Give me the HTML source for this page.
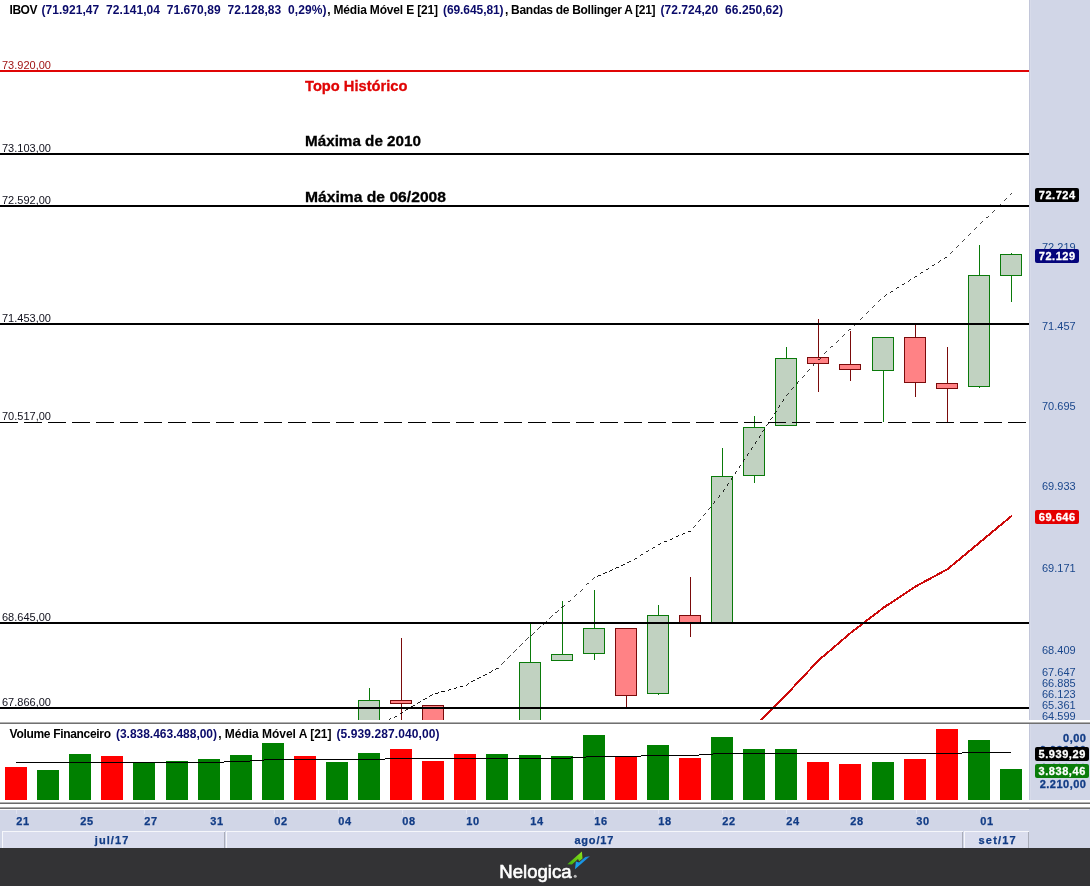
<!DOCTYPE html>
<html lang="pt-BR"><head><meta charset="utf-8"><title>IBOV</title>
<style>
html,body{margin:0;padding:0;background:#fff;}
body{width:1090px;height:886px;overflow:hidden;}
svg{display:block}
text{font-family:"Liberation Sans",sans-serif;white-space:pre}
.hb{font-size:12px;font-weight:bold;fill:#000}
.hn{font-size:12px;font-weight:bold;fill:#0a0a6a}
.lv{font-size:11px;fill:#10101c}
.ax{font-size:11px;fill:#1a478c}
.axb{font-size:11px;font-weight:bold;fill:#123c86;letter-spacing:.5px;stroke:#123c86;stroke-width:.3px}
.tag{font-size:11px;font-weight:bold;fill:#fff;letter-spacing:.55px;stroke:#fff;stroke-width:.3px}
.an{font-size:15.5px;font-weight:bold;fill:#000;stroke:#000;stroke-width:.3px}
.dt{font-size:11px;font-weight:bold;fill:#123c86;letter-spacing:.8px;stroke:#123c86;stroke-width:.25px}
</style></head><body>
<svg width="1090" height="886" viewBox="0 0 1090 886">
<rect width="1090" height="886" fill="#fff"/>
<defs><clipPath id="cm"><rect x="0" y="0" width="1029" height="720"/></clipPath></defs>
<g clip-path="url(#cm)" shape-rendering="crispEdges">
<line x1="369.5" y1="688.0" x2="369.5" y2="730.0" stroke="#0a7a0a" stroke-width="1"/>
<rect x="358.5" y="700.5" width="21" height="29.5" fill="#c1d2c1" stroke="#0a7a0a" stroke-width="1"/>
<line x1="401.5" y1="638.0" x2="401.5" y2="730.0" stroke="#7a0a0a" stroke-width="1"/>
<rect x="390.5" y="700.5" width="21" height="3.0" fill="#ff8285" stroke="#7a0a0a" stroke-width="1"/>
<line x1="433.5" y1="705.5" x2="433.5" y2="730.0" stroke="#7a0a0a" stroke-width="1"/>
<rect x="422.5" y="705.5" width="21" height="24.5" fill="#ff8285" stroke="#7a0a0a" stroke-width="1"/>
<line x1="530.5" y1="624.0" x2="530.5" y2="730.0" stroke="#0a7a0a" stroke-width="1"/>
<rect x="519.5" y="662.5" width="21" height="67.5" fill="#c1d2c1" stroke="#0a7a0a" stroke-width="1"/>
<line x1="562.5" y1="601.0" x2="562.5" y2="660.5" stroke="#0a7a0a" stroke-width="1"/>
<rect x="551.5" y="654.5" width="21" height="6.0" fill="#c1d2c1" stroke="#0a7a0a" stroke-width="1"/>
<line x1="594.5" y1="590.0" x2="594.5" y2="660.0" stroke="#0a7a0a" stroke-width="1"/>
<rect x="583.5" y="628.5" width="21" height="25.0" fill="#c1d2c1" stroke="#0a7a0a" stroke-width="1"/>
<line x1="626.5" y1="628.5" x2="626.5" y2="707.0" stroke="#7a0a0a" stroke-width="1"/>
<rect x="615.5" y="628.5" width="21" height="67.0" fill="#ff8285" stroke="#7a0a0a" stroke-width="1"/>
<line x1="658.5" y1="605.0" x2="658.5" y2="695.0" stroke="#0a7a0a" stroke-width="1"/>
<rect x="647.5" y="615.5" width="21" height="78.0" fill="#c1d2c1" stroke="#0a7a0a" stroke-width="1"/>
<line x1="690.5" y1="577.0" x2="690.5" y2="637.0" stroke="#7a0a0a" stroke-width="1"/>
<rect x="679.5" y="615.5" width="21" height="8.0" fill="#ff8285" stroke="#7a0a0a" stroke-width="1"/>
<line x1="722.5" y1="448.0" x2="722.5" y2="623.5" stroke="#0a7a0a" stroke-width="1"/>
<rect x="711.5" y="476.5" width="21" height="147.0" fill="#c1d2c1" stroke="#0a7a0a" stroke-width="1"/>
<line x1="754.5" y1="415.5" x2="754.5" y2="482.5" stroke="#0a7a0a" stroke-width="1"/>
<rect x="743.5" y="427.5" width="21" height="48.0" fill="#c1d2c1" stroke="#0a7a0a" stroke-width="1"/>
<line x1="786.5" y1="347.0" x2="786.5" y2="425.5" stroke="#0a7a0a" stroke-width="1"/>
<rect x="775.5" y="358.5" width="21" height="67.0" fill="#c1d2c1" stroke="#0a7a0a" stroke-width="1"/>
<line x1="818.5" y1="319.0" x2="818.5" y2="392.0" stroke="#7a0a0a" stroke-width="1"/>
<rect x="807.5" y="357.5" width="21" height="6.0" fill="#ff8285" stroke="#7a0a0a" stroke-width="1"/>
<line x1="850.5" y1="331.0" x2="850.5" y2="380.5" stroke="#7a0a0a" stroke-width="1"/>
<rect x="839.5" y="364.5" width="21" height="5.0" fill="#ff8285" stroke="#7a0a0a" stroke-width="1"/>
<line x1="883.5" y1="337.5" x2="883.5" y2="422.0" stroke="#0a7a0a" stroke-width="1"/>
<rect x="872.5" y="337.5" width="21" height="33.0" fill="#c1d2c1" stroke="#0a7a0a" stroke-width="1"/>
<line x1="915.5" y1="324.0" x2="915.5" y2="397.0" stroke="#7a0a0a" stroke-width="1"/>
<rect x="904.5" y="337.5" width="21" height="45.0" fill="#ff8285" stroke="#7a0a0a" stroke-width="1"/>
<line x1="947.5" y1="347.0" x2="947.5" y2="422.5" stroke="#7a0a0a" stroke-width="1"/>
<rect x="936.5" y="383.5" width="21" height="5.0" fill="#ff8285" stroke="#7a0a0a" stroke-width="1"/>
<line x1="979.5" y1="245.0" x2="979.5" y2="387.5" stroke="#0a7a0a" stroke-width="1"/>
<rect x="968.5" y="275.5" width="21" height="111.0" fill="#c1d2c1" stroke="#0a7a0a" stroke-width="1"/>
<line x1="1011.5" y1="253.0" x2="1011.5" y2="302.0" stroke="#0a7a0a" stroke-width="1"/>
<rect x="1000.5" y="254.5" width="21" height="21.0" fill="#c1d2c1" stroke="#0a7a0a" stroke-width="1"/>
</g>
<g clip-path="url(#cm)">
<g shape-rendering="crispEdges" stroke="#000" fill="none">
<line x1="369.5" y1="731.4" x2="401.5" y2="712.5" stroke-width="0.86" stroke-dasharray="3.72 3.25" stroke-dashoffset="0.00"/>
<line x1="401.5" y1="712.5" x2="433.5" y2="694.3" stroke-width="0.87" stroke-dasharray="3.68 3.22" stroke-dashoffset="2.30"/>
<line x1="433.5" y1="694.3" x2="465.5" y2="685.0" stroke-width="0.96" stroke-dasharray="3.33 2.92" stroke-dashoffset="4.17"/>
<line x1="465.5" y1="685.0" x2="497.5" y2="668.4" stroke-width="0.89" stroke-dasharray="3.60 3.15" stroke-dashoffset="0.00"/>
<line x1="497.5" y1="668.4" x2="530.5" y2="636.0" stroke-width="0.71" stroke-dasharray="4.48 3.92" stroke-dashoffset="2.80"/>
<line x1="530.5" y1="636.0" x2="562.5" y2="606.5" stroke-width="0.74" stroke-dasharray="4.35 3.81" stroke-dashoffset="6.80"/>
<line x1="562.5" y1="606.5" x2="594.5" y2="577.7" stroke-width="0.74" stroke-dasharray="4.31 3.77" stroke-dashoffset="1.35"/>
<line x1="594.5" y1="577.7" x2="626.5" y2="563.5" stroke-width="0.91" stroke-dasharray="3.50 3.06" stroke-dashoffset="3.28"/>
<line x1="626.5" y1="563.5" x2="658.5" y2="544.0" stroke-width="0.85" stroke-dasharray="3.75 3.28" stroke-dashoffset="5.86"/>
<line x1="658.5" y1="544.0" x2="690.5" y2="531.2" stroke-width="0.93" stroke-dasharray="3.45 3.02" stroke-dashoffset="1.08"/>
<line x1="690.5" y1="531.2" x2="722.5" y2="492.4" stroke-width="0.77" stroke-dasharray="4.15 3.63" stroke-dashoffset="3.89"/>
<line x1="722.5" y1="492.4" x2="754.5" y2="444.5" stroke-width="0.83" stroke-dasharray="3.85 3.37" stroke-dashoffset="6.98"/>
<line x1="754.5" y1="444.5" x2="786.5" y2="395.5" stroke-width="0.84" stroke-dasharray="3.82 3.34" stroke-dashoffset="6.81"/>
<line x1="786.5" y1="395.5" x2="818.5" y2="359.3" stroke-width="0.75" stroke-dasharray="4.27 3.74" stroke-dashoffset="0.93"/>
<line x1="818.5" y1="359.3" x2="850.5" y2="329.0" stroke-width="0.73" stroke-dasharray="4.41 3.86" stroke-dashoffset="1.24"/>
<line x1="850.5" y1="329.0" x2="883.5" y2="296.8" stroke-width="0.72" stroke-dasharray="4.47 3.91" stroke-dashoffset="4.05"/>
<line x1="883.5" y1="296.8" x2="915.5" y2="276.6" stroke-width="0.85" stroke-dasharray="3.78 3.31" stroke-dashoffset="6.98"/>
<line x1="915.5" y1="276.6" x2="947.5" y2="256.5" stroke-width="0.85" stroke-dasharray="3.78 3.31" stroke-dashoffset="2.24"/>
<line x1="947.5" y1="256.5" x2="979.5" y2="224.8" stroke-width="0.71" stroke-dasharray="4.50 3.94" stroke-dashoffset="5.49"/>
<line x1="979.5" y1="224.8" x2="1011.5" y2="193.7" stroke-width="0.72" stroke-dasharray="4.46 3.90" stroke-dashoffset="8.23"/>
</g>
<g shape-rendering="crispEdges" stroke="#cc0a0a" fill="none" stroke-linecap="round">
<line x1="754.5" y1="727.0" x2="786.5" y2="694.5" stroke-width="2"/>
<line x1="786.5" y1="694.5" x2="818.5" y2="660.4" stroke-width="2"/>
<line x1="818.5" y1="660.4" x2="850.5" y2="633.0" stroke-width="2"/>
<line x1="850.5" y1="633.0" x2="883.5" y2="607.7" stroke-width="2"/>
<line x1="883.5" y1="607.7" x2="915.5" y2="586.5" stroke-width="2"/>
<line x1="915.5" y1="586.5" x2="947.5" y2="569.2" stroke-width="2"/>
<line x1="947.5" y1="569.2" x2="979.5" y2="542.6" stroke-width="2"/>
<line x1="979.5" y1="542.6" x2="1011.5" y2="516.0" stroke-width="2"/>
</g>
</g>
<g shape-rendering="crispEdges">
<rect x="0" y="70" width="1029" height="2" fill="#e00505"/>
<rect x="0" y="153" width="1029" height="2" fill="#000"/>
<rect x="0" y="205" width="1029" height="2" fill="#000"/>
<rect x="0" y="323" width="1029" height="2" fill="#000"/>
<rect x="0" y="622" width="1029" height="2" fill="#000"/>
<rect x="0" y="707" width="1029" height="2" fill="#000"/>
<line x1="0" y1="422.5" x2="1029" y2="422.5" stroke="#000" stroke-width="1" stroke-dasharray="18 6"/>
</g>
<text class="lv" x="2" y="69" style="fill:#a01414">73.920,00</text>
<text class="lv" x="2" y="152">73.103,00</text>
<text class="lv" x="2" y="204">72.592,00</text>
<text class="lv" x="2" y="322">71.453,00</text>
<text class="lv" x="2" y="420">70.517,00</text>
<text class="lv" x="2" y="621">68.645,00</text>
<text class="lv" x="2" y="706">67.866,00</text>
<text class="an" x="305" y="91" textLength="102.5" lengthAdjust="spacingAndGlyphs" style="fill:#e00505;stroke:#e00505">Topo Histórico</text>
<text class="an" x="305" y="146" textLength="116" lengthAdjust="spacingAndGlyphs">Máxima de 2010</text>
<text class="an" x="305" y="202" textLength="141" lengthAdjust="spacingAndGlyphs">Máxima de 06/2008</text>
<text class="hb" x="9.6" y="13.8" textLength="27.8" lengthAdjust="spacing">IBOV</text>
<text class="hn" x="41.4" y="13.8" textLength="285.0" lengthAdjust="spacing">(71.921,47  72.141,04  71.670,89  72.128,83  0,29%)</text>
<text class="hb" x="327.2" y="13.8" textLength="110.8" lengthAdjust="spacing">, Média Móvel E [21]</text>
<text class="hn" x="443.0" y="13.8" textLength="60.6" lengthAdjust="spacing">(69.645,81)</text>
<text class="hb" x="505.0" y="13.8" textLength="150.6" lengthAdjust="spacing">, Bandas de Bollinger A [21]</text>
<text class="hn" x="660.4" y="13.8" textLength="122.6" lengthAdjust="spacing">(72.724,20  66.250,62)</text>
<rect x="1029" y="0" width="61" height="848" fill="#d1d6e7"/>
<rect x="1029" y="0" width="1" height="800" fill="#c2c6d9" shape-rendering="crispEdges"/>
<rect x="1030" y="0" width="1" height="800" fill="#d7dbea" shape-rendering="crispEdges"/>
<text class="ax" x="1042" y="251.0">72.219</text>
<text class="ax" x="1042" y="330.0">71.457</text>
<text class="ax" x="1042" y="410.0">70.695</text>
<text class="ax" x="1042" y="490.0">69.933</text>
<text class="ax" x="1042" y="572.0">69.171</text>
<text class="ax" x="1042" y="654.0">68.409</text>
<text class="ax" x="1042" y="676.0">67.647</text>
<text class="ax" x="1042" y="686.7">66.885</text>
<text class="ax" x="1042" y="697.8">66.123</text>
<text class="ax" x="1042" y="708.8">65.361</text>
<text class="ax" x="1042" y="719.6">64.599</text>
<rect x="1035.0" y="188.0" width="44.0" height="14.0" rx="2" fill="#000"/>
<text class="tag" x="1057.2" y="199.0" text-anchor="middle">72.724</text>
<rect x="1035.0" y="249.0" width="44.0" height="14.0" rx="2" fill="#05057c"/>
<text class="tag" x="1057.2" y="260.0" text-anchor="middle">72.129</text>
<rect x="1035.0" y="510.0" width="44.0" height="14.0" rx="2" fill="#e40000"/>
<text class="tag" x="1057.2" y="521.0" text-anchor="middle">69.646</text>
<g shape-rendering="crispEdges">
<rect x="5" y="767" width="22" height="33" fill="#ff0000"/>
<rect x="37" y="770" width="22" height="30" fill="#008000"/>
<rect x="69" y="754" width="22" height="46" fill="#008000"/>
<rect x="101" y="756" width="22" height="44" fill="#ff0000"/>
<rect x="133" y="763" width="22" height="37" fill="#008000"/>
<rect x="166" y="761" width="22" height="39" fill="#008000"/>
<rect x="198" y="759" width="22" height="41" fill="#008000"/>
<rect x="230" y="755" width="22" height="45" fill="#008000"/>
<rect x="262" y="743" width="22" height="57" fill="#008000"/>
<rect x="294" y="756" width="22" height="44" fill="#ff0000"/>
<rect x="326" y="762" width="22" height="38" fill="#008000"/>
<rect x="358" y="753" width="22" height="47" fill="#008000"/>
<rect x="390" y="749" width="22" height="51" fill="#ff0000"/>
<rect x="422" y="761" width="22" height="39" fill="#ff0000"/>
<rect x="454" y="754" width="22" height="46" fill="#ff0000"/>
<rect x="486" y="754" width="22" height="46" fill="#008000"/>
<rect x="519" y="755" width="22" height="45" fill="#008000"/>
<rect x="551" y="756" width="22" height="44" fill="#008000"/>
<rect x="583" y="735" width="22" height="65" fill="#008000"/>
<rect x="615" y="757" width="22" height="43" fill="#ff0000"/>
<rect x="647" y="745" width="22" height="55" fill="#008000"/>
<rect x="679" y="758" width="22" height="42" fill="#ff0000"/>
<rect x="711" y="737" width="22" height="63" fill="#008000"/>
<rect x="743" y="749" width="22" height="51" fill="#008000"/>
<rect x="775" y="749" width="22" height="51" fill="#008000"/>
<rect x="807" y="762" width="22" height="38" fill="#ff0000"/>
<rect x="839" y="764" width="22" height="36" fill="#ff0000"/>
<rect x="872" y="762" width="22" height="38" fill="#008000"/>
<rect x="904" y="759" width="22" height="41" fill="#ff0000"/>
<rect x="936" y="729" width="22" height="71" fill="#ff0000"/>
<rect x="968" y="740" width="22" height="60" fill="#008000"/>
<rect x="1000" y="769" width="22" height="31" fill="#008000"/>
<rect x="16" y="762" width="208" height="1" fill="#000"/>
<rect x="224" y="761" width="26" height="1" fill="#000"/>
<rect x="250" y="760" width="14" height="1" fill="#000"/>
<rect x="264" y="759" width="121" height="1" fill="#000"/>
<rect x="385" y="758" width="186" height="1" fill="#000"/>
<rect x="571" y="757" width="15" height="1" fill="#000"/>
<rect x="586" y="756" width="55" height="1" fill="#000"/>
<rect x="641" y="755" width="58" height="1" fill="#000"/>
<rect x="699" y="754" width="14" height="1" fill="#000"/>
<rect x="713" y="753" width="249" height="1" fill="#000"/>
<rect x="962" y="752" width="49" height="1" fill="#000"/>
</g>
<text class="hb" x="9.6" y="737.6" textLength="101.4" lengthAdjust="spacing">Volume Financeiro</text>
<text class="hn" x="116.0" y="737.6" textLength="101.0" lengthAdjust="spacing">(3.838.463.488,00)</text>
<text class="hb" x="218.2" y="737.6" textLength="113.3" lengthAdjust="spacing">, Média Móvel A [21]</text>
<text class="hn" x="336.5" y="737.6" textLength="102.9" lengthAdjust="spacing">(5.939.287.040,00)</text>
<text class="axb" x="1086.5" y="742" text-anchor="end">0,00</text>
<text class="axb" x="1086.5" y="754" text-anchor="end">6.630,00</text>
<text class="axb" x="1086.5" y="772" text-anchor="end">4.420,00</text>
<text class="axb" x="1086.5" y="788" text-anchor="end">2.210,00</text>
<rect x="1035.0" y="747.0" width="54.0" height="14.0" rx="2" fill="#000"/>
<text class="tag" x="1062.2" y="758.0" text-anchor="middle">5.939,29</text>
<rect x="1035.0" y="764.0" width="54.0" height="14.0" rx="2" fill="#0a7c0a"/>
<text class="tag" x="1062.2" y="775.0" text-anchor="middle">3.838,46</text>
<g shape-rendering="crispEdges">
<rect x="0" y="720" width="1090" height="2" fill="#fff"/>
<rect x="0" y="722" width="1090" height="1" fill="#b0b0b0"/>
<rect x="0" y="723" width="1090" height="1" fill="#707070"/>
<rect x="0" y="800" width="1090" height="2" fill="#fff"/>
<rect x="0" y="802" width="1090" height="1" fill="#b0b0b0"/>
<rect x="0" y="803" width="1090" height="1" fill="#6a6a6a"/>
<rect x="0" y="804" width="1090" height="3" fill="#fff"/>
<rect x="0" y="807" width="1090" height="1" fill="#a8a8a8"/>
<rect x="0" y="808" width="1090" height="1" fill="#707070"/>
<rect x="0" y="809" width="1090" height="39" fill="#d1d6e7"/>
<rect x="0" y="809" width="1029" height="1" fill="#fbfbfd"/>
<rect x="16" y="810" width="1" height="4" fill="#e0e3f1"/>
<rect x="80" y="810" width="1" height="4" fill="#e0e3f1"/>
<rect x="144" y="810" width="1" height="4" fill="#e0e3f1"/>
<rect x="210" y="810" width="1" height="4" fill="#e0e3f1"/>
<rect x="274" y="810" width="1" height="4" fill="#e0e3f1"/>
<rect x="338" y="810" width="1" height="4" fill="#e0e3f1"/>
<rect x="402" y="810" width="1" height="4" fill="#e0e3f1"/>
<rect x="466" y="810" width="1" height="4" fill="#e0e3f1"/>
<rect x="530" y="810" width="1" height="4" fill="#e0e3f1"/>
<rect x="594" y="810" width="1" height="4" fill="#e0e3f1"/>
<rect x="658" y="810" width="1" height="4" fill="#e0e3f1"/>
<rect x="722" y="810" width="1" height="4" fill="#e0e3f1"/>
<rect x="786" y="810" width="1" height="4" fill="#e0e3f1"/>
<rect x="850" y="810" width="1" height="4" fill="#e0e3f1"/>
<rect x="916" y="810" width="1" height="4" fill="#e0e3f1"/>
<rect x="980" y="810" width="1" height="4" fill="#e0e3f1"/>
<rect x="2" y="831" width="223" height="17" fill="#dadded"/>
<rect x="2" y="831" width="223" height="1" fill="#f6f7fb"/>
<rect x="2" y="831" width="1" height="17" fill="#f6f7fb"/>
<rect x="224" y="832" width="1" height="16" fill="#a9acb8"/>
<rect x="226" y="831" width="737" height="17" fill="#dadded"/>
<rect x="226" y="831" width="737" height="1" fill="#f6f7fb"/>
<rect x="226" y="831" width="1" height="17" fill="#f6f7fb"/>
<rect x="962" y="832" width="1" height="16" fill="#a9acb8"/>
<rect x="964" y="831" width="65" height="17" fill="#dadded"/>
<rect x="964" y="831" width="65" height="1" fill="#f6f7fb"/>
<rect x="964" y="831" width="1" height="17" fill="#f6f7fb"/>
<rect x="1028" y="832" width="1" height="16" fill="#a9acb8"/>
</g>
<text class="dt" x="16.2" y="825">21</text>
<text class="dt" x="80.2" y="825">25</text>
<text class="dt" x="144.2" y="825">27</text>
<text class="dt" x="210.2" y="825">31</text>
<text class="dt" x="274.2" y="825">02</text>
<text class="dt" x="338.2" y="825">04</text>
<text class="dt" x="402.2" y="825">08</text>
<text class="dt" x="466.2" y="825">10</text>
<text class="dt" x="530.2" y="825">14</text>
<text class="dt" x="594.2" y="825">16</text>
<text class="dt" x="658.2" y="825">18</text>
<text class="dt" x="722.2" y="825">22</text>
<text class="dt" x="786.2" y="825">24</text>
<text class="dt" x="850.2" y="825">28</text>
<text class="dt" x="916.2" y="825">30</text>
<text class="dt" x="980.2" y="825">01</text>
<text class="dt" x="94.8" y="843.5" textLength="34.3" lengthAdjust="spacing">jul/17</text>
<text class="dt" x="574.4" y="843.5" textLength="39.7" lengthAdjust="spacing">ago/17</text>
<text class="dt" x="978.5" y="843.5" textLength="38.0" lengthAdjust="spacing">set/17</text>
<rect x="0" y="848" width="1090" height="38" fill="#333335"/>
<text x="499.3" y="877.6" textLength="72.3" lengthAdjust="spacingAndGlyphs" style="font-size:18px;fill:#fff;stroke:#fff;stroke-width:.6px">Nelogica</text>
<circle cx="575.2" cy="876.3" r="1.5" fill="#b9b9b9"/>
<defs><linearGradient id="lg" x1="0" y1="1" x2="1" y2="0"><stop offset="0" stop-color="#3fae0c"/><stop offset="1" stop-color="#8de31c"/></linearGradient><linearGradient id="lb" x1="0" y1="1" x2="1" y2="0"><stop offset="0" stop-color="#16a6f2"/><stop offset="1" stop-color="#1c86da"/></linearGradient></defs>
<polygon points="567.3,864.2 581.9,851.6 582.5,858.4 579.2,861.3 578,859 571.9,864.6" fill="url(#lg)"/>
<polygon points="575.9,861.4 579.1,862.6 585.3,856.9 589.9,856.2 575,869.2" fill="url(#lb)"/>
</svg></body></html>
